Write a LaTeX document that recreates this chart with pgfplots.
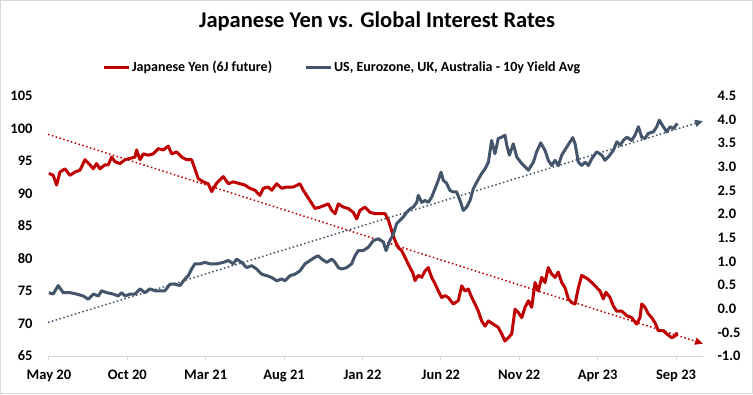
\documentclass[border=0pt]{standalone}
\usepackage{pgfplots}
\pgfplotsset{compat=1.18}
\usetikzlibrary{arrows.meta}
\usepackage{fontspec}
\setmainfont{Carlito}
\definecolor{yen}{HTML}{C00000}
\definecolor{yld}{HTML}{44546A}
\definecolor{axgray}{HTML}{D9D9D9}
\begin{document}
\begin{tikzpicture}
\draw[axgray, line width=1pt] (0.5pt,0.5pt) rectangle (752.5pt,393.5pt);
\node[font=\fontsize{22.5}{27}\selectfont\bfseries] at (377pt,372.5pt) {Japanese Yen vs. Global Interest Rates};
\pgfplotsset{
  base/.style={
    at={(48pt,38pt)}, anchor=south west,
    scale only axis, width=655pt, height=260pt,
    xmin=-0.06, xmax=41.72,
    tick align=outside, major tick length=4pt,
    ticklabel style={font=\fontsize{14.5}{17}\selectfont\bfseries},
    /pgf/number format/assume math mode=true,
    clip=false,
  }
}
\begin{axis}[base,
  ymin=65, ymax=105,
  axis x line*=bottom, axis y line*=left,
  x axis line style={axgray, line width=1pt, -},
  y axis line style={draw=none},
  xtick={0,5,10,15,20,25,30,35,40},
  xticklabels={May 20,Oct 20,Mar 21,Aug 21,Jan 22,Jun 22,Nov 22,Apr 23,Sep 23},
  xticklabel style={yshift=-6pt},
  xtick style={axgray, line width=1pt},
  ytick={65,70,75,80,85,90,95,100,105},
  yticklabel style={xshift=-8pt},
  ytick style={draw=none},
]
\addplot[yen, line width=1.5pt, dash pattern=on 1.5pt off 2.5pt, -{Triangle[length=8pt,width=7pt]}] coordinates {(-0.06,99.1) (41.72,66.9)};
\addplot[yen, line width=3pt, line join=round] coordinates {
(0,93.1) (0.27,92.8) (0.49,91.3) (0.70,93.3) (1.02,93.8) (1.34,92.8) (1.66,93.3) (1.98,93.6) (2.30,95.2) (2.62,94.4) (2.83,93.8) (3.04,94.6) (3.25,93.8) (3.57,94.4) (3.78,94.4) (4.00,95.6) (4.21,94.9) (4.53,94.6) (4.85,95.2) (5.17,95.4) (5.49,95.6) (5.59,96.7) (5.81,95.2) (6.02,96.1) (6.34,95.9) (6.65,96.1) (6.97,96.9) (7.29,96.7) (7.61,97.3) (7.83,96.1) (8.15,96.4) (8.47,95.6) (8.78,95.2) (9.10,95.2) (9.31,93.8) (9.52,92.3) (9.84,91.8) (10.16,91.5) (10.38,90.3) (10.70,91.6) (11.12,92.6) (11.44,91.5) (11.76,91.8) (12.19,91.5) (12.50,91.3) (12.82,90.8) (13.14,90.5) (13.46,89.7) (13.67,90.8) (13.99,91.0) (14.21,90.5) (14.53,91.5) (14.85,90.8) (15.16,91.0) (15.59,91.0) (16.01,91.5) (16.22,90.5) (16.44,89.7) (16.65,88.9) (16.97,87.7) (17.29,87.9) (17.61,88.2) (17.82,88.4) (18.04,87.4) (18.25,86.9) (18.46,88.4) (18.78,87.9) (19.09,87.7) (19.41,87.1) (19.63,86.1) (19.84,87.4) (20.16,87.9) (20.48,87.1) (20.80,86.9) (21.12,86.9) (21.44,86.9) (21.65,85.9) (21.86,84.3) (22.07,82.8) (22.28,81.7) (22.50,81.2) (22.71,80.2) (23.03,78.6) (23.24,77.6) (23.35,76.6) (23.56,77.4) (23.78,77.1) (23.99,78.1) (24.20,78.6) (24.41,77.1) (24.63,76.1) (24.84,75.0) (25.05,74.0) (25.26,74.3) (25.47,74.0) (25.79,73.0) (26.11,73.5) (26.33,75.8) (26.54,75.0) (26.75,75.3) (26.97,74.0) (27.18,73.0) (27.39,71.9) (27.60,70.4) (27.82,69.6) (28.03,70.4) (28.34,69.9) (28.66,69.4) (28.88,68.4) (29.09,67.3) (29.30,67.8) (29.52,68.4) (29.73,72.2) (29.94,71.7) (30.16,70.9) (30.37,72.5) (30.58,73.5) (30.79,72.5) (31.01,76.3) (31.22,75.0) (31.43,77.1) (31.64,76.3) (31.85,78.6) (32.07,77.6) (32.28,77.1) (32.49,77.9) (32.71,76.3) (32.92,75.5) (33.13,73.8) (33.35,73.2) (33.56,73.0) (33.77,75.5) (33.98,77.4) (34.20,77.1) (34.41,76.8) (34.62,76.3) (34.83,75.8) (35.15,75.0) (35.36,73.8) (35.53,74.8) (35.79,74.0) (36.00,72.7) (36.22,71.9) (36.54,71.9) (36.86,71.2) (37.17,70.9) (37.49,69.9) (37.70,70.9) (37.81,73.0) (38.02,72.5) (38.23,71.5) (38.45,70.9) (38.66,70.1) (38.87,68.9) (39.19,68.9) (39.41,68.4) (39.73,67.8) (39.94,68.1) (40.08,68.6)
};
\end{axis}
\begin{axis}[base,
  ymin=-1, ymax=4.5,
  axis x line=none, axis y line*=right,
  y axis line style={draw=none},
  ytick={-1,-0.5,0,0.5,1,1.5,2,2.5,3,3.5,4,4.5},
  ytick style={draw=none},
  yticklabel style={xshift=7pt, /pgf/number format/.cd, fixed, fixed zerofill, precision=1},
  legend style={at={(rel axis cs:0.449,1.11)}, anchor=center, draw=none, fill=none,
    legend columns=2, font=\fontsize{14}{17}\selectfont\bfseries,
    /tikz/every even column/.append style={column sep=30pt}},
  legend image code/.code={\draw[#1, line cap=butt] (0pt,0pt) -- (25pt,0pt);},
]
\addlegendimage{yen, line width=3pt}
\addlegendentry{Japanese Yen (6J future)}
\addplot[yld, line width=1.5pt, dash pattern=on 1.5pt off 2.5pt, -{Triangle[length=8pt,width=7pt]}, forget plot] coordinates {(-0.06,-0.29) (41.72,3.97)};
\addplot[yld, line width=3pt, line join=round] coordinates {
(0,0.34) (0.27,0.31) (0.59,0.49) (0.91,0.34) (1.34,0.34) (1.77,0.31) (2.19,0.27) (2.51,0.20) (2.83,0.31) (3.15,0.27) (3.36,0.38) (3.68,0.34) (4.10,0.31) (4.42,0.27) (4.64,0.34) (4.85,0.27) (5.17,0.31) (5.49,0.31) (5.81,0.42) (6.12,0.34) (6.44,0.42) (6.76,0.38) (7.08,0.38) (7.40,0.38) (7.72,0.52) (8.04,0.52) (8.36,0.49) (8.68,0.63) (8.89,0.70) (9.10,0.84) (9.31,0.95) (9.63,0.95) (9.95,0.98) (10.27,0.95) (10.70,0.95) (11.12,0.98) (11.44,1.02) (11.76,0.95) (11.97,1.05) (12.29,0.98) (12.61,0.87) (12.93,0.91) (13.25,0.84) (13.57,0.73) (13.89,0.70) (14.21,0.66) (14.53,0.59) (14.85,0.63) (15.06,0.59) (15.38,0.70) (15.69,0.73) (16.01,0.80) (16.33,0.95) (16.65,1.02) (16.97,1.09) (17.18,1.12) (17.40,1.05) (17.72,0.98) (18.04,1.05) (18.25,0.98) (18.46,0.87) (18.67,0.84) (18.99,0.87) (19.31,0.95) (19.52,1.12) (19.73,1.23) (20.05,1.23) (20.37,1.30) (20.69,1.44) (21.01,1.48) (21.33,1.41) (21.50,1.23) (21.75,1.44) (21.97,1.58) (22.18,1.80) (22.39,1.87) (22.60,1.94) (22.82,2.04) (23.03,2.11) (23.24,2.15) (23.46,2.25) (23.56,2.40) (23.78,2.25) (23.99,2.29) (24.20,2.25) (24.41,2.36) (24.63,2.54) (24.84,2.72) (25.01,2.89) (25.15,2.72) (25.37,2.65) (25.58,2.50) (25.79,2.47) (26.01,2.47) (26.22,2.29) (26.43,2.08) (26.65,2.15) (26.86,2.29) (27.07,2.54) (27.29,2.68) (27.60,2.86) (27.82,2.96) (28.03,3.10) (28.24,3.56) (28.45,3.28) (28.66,3.60) (28.88,3.63) (29.09,3.67) (29.20,3.46) (29.37,3.25) (29.62,3.49) (29.84,3.21) (30.16,3.07) (30.37,3.00) (30.58,2.93) (30.90,3.10) (31.11,3.32) (31.37,3.51) (31.64,3.35) (31.85,3.14) (32.07,3.03) (32.28,3.14) (32.49,3.03) (32.71,3.25) (33.03,3.42) (33.24,3.53) (33.41,3.62) (33.56,3.49) (33.77,3.10) (33.98,3.03) (34.20,3.10) (34.41,3.03) (34.62,3.17) (34.94,3.32) (35.26,3.25) (35.47,3.14) (35.68,3.21) (36.00,3.35) (36.22,3.53) (36.43,3.46) (36.64,3.56) (36.86,3.63) (37.17,3.56) (37.38,3.67) (37.60,3.85) (37.81,3.63) (38.02,3.60) (38.23,3.71) (38.55,3.74) (38.77,3.85) (38.93,3.99) (39.19,3.85) (39.41,3.74) (39.62,3.85) (39.83,3.81) (40.08,3.92)
};
\addlegendentry{US, Eurozone, UK, Australia - 10y Yield Avg}
\end{axis}
\end{tikzpicture}
\end{document}
